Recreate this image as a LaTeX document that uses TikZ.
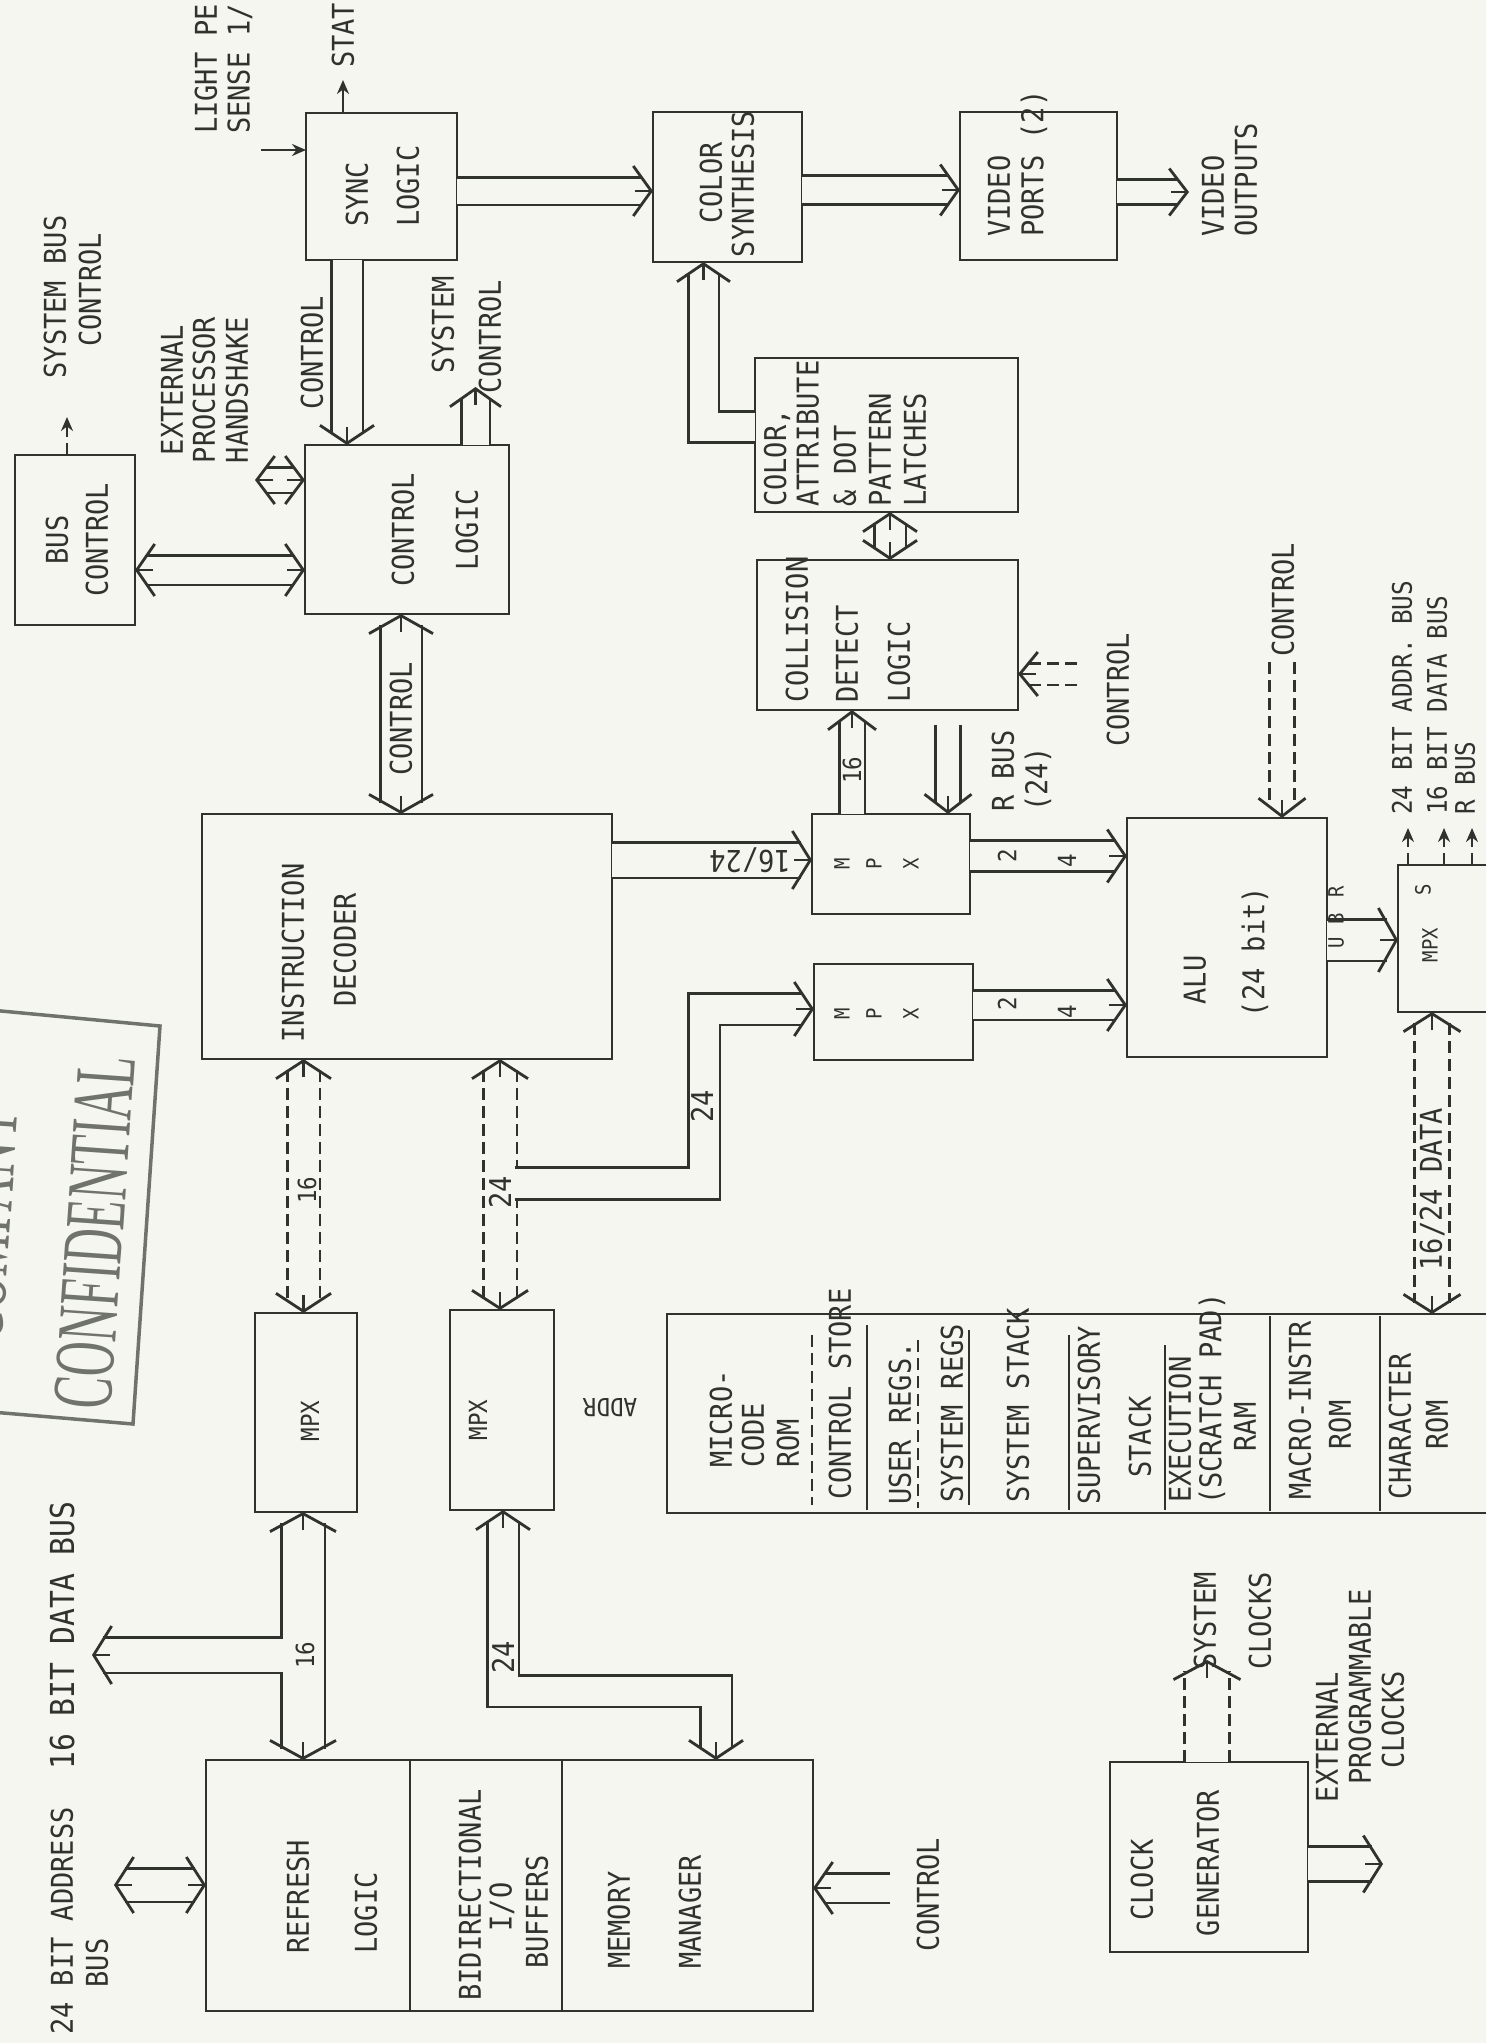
\documentclass[tikz,border=0pt]{standalone}
\usepackage{fontspec}
\usetikzlibrary{arrows.meta,calc}
\newfontfamily\tw[FakeStretch=0.9]{DejaVu Sans Mono}
\newfontfamily\stampf[FakeStretch=0.56]{Liberation Serif}
\definecolor{bgc}{RGB}{246,246,241}
\definecolor{ink}{RGB}{48,50,46}
\definecolor{stampc}{RGB}{112,114,108}
\newcommand\hU[2]{\draw[hd=#2] ($#1+(0,18)$) -- #1;}
\newcommand\hD[2]{\draw[hd=#2] ($#1+(0,-18)$) -- #1;}
\newcommand\hL[2]{\draw[hd=#2] ($#1+(18,0)$) -- #1;}
\newcommand\hR[2]{\draw[hd=#2] ($#1+(-18,0)$) -- #1;}
\begin{document}
\begin{tikzpicture}[x=1pt,y=-1pt,
  bx/.style={draw=ink, line width=2.8pt, inner sep=0pt, outer sep=0pt, anchor=north west},
  tx/.style={inner sep=0pt, text=ink, font={\tw\fontsize{30}{34}\selectfont}},
  lb/.style={tx, rotate=90},
  lbm/.style={lb, font={\tw\fontsize{25}{28}\selectfont}},
  lbs/.style={lb, font={\tw\fontsize{21}{24}\selectfont}},
  lbr/.style={lb, font={\tw\fontsize{27}{30}\selectfont}},
  shaft/.style={draw=ink, line width=2.8pt, double=bgc, double distance=#1},
  hd/.style={draw=ink, line width=2.8pt, -{Straight Barb[length=18pt, width=#1]}},
  sarr/.style={draw=ink, line width=2.2pt, -{Stealth[length=14pt, width=12pt]}},
  dv/.style={draw=ink, line width=2.2pt},
  dsh/.style={dash pattern=on 12pt off 6pt},
  stx/.style={inner sep=0pt, text=stampc, rotate=86, align=center, font={\stampf\fontsize{86}{113}\selectfont}}
]
\useasboundingbox (0,0) rectangle (1486,2043);
\fill[bgc] (0,0) rectangle (1486,2043);
\begin{scope}
\clip (0,0) rectangle (1486,2043);

% ---------------- boxes
\node[bx, minimum width=120pt, minimum height=170pt] (bus) at (15,455) {};
\node[bx, minimum width=204pt, minimum height=169pt] (ctl) at (305,445) {};
\node[bx, minimum width=151pt, minimum height=147pt] (sync) at (306,113) {};
\node[bx, minimum width=149pt, minimum height=150pt] (csyn) at (653,112) {};
\node[bx, minimum width=157pt, minimum height=148pt] (vports) at (960,112) {};
\node[bx, minimum width=263pt, minimum height=154pt] (latch) at (755,358) {};
\node[bx, minimum width=261pt, minimum height=150pt] (coll) at (757,560) {};
\node[bx, minimum width=410pt, minimum height=245pt] (idec) at (202,814) {};
\node[bx, minimum width=158pt, minimum height=100pt] (mpxa) at (812,814) {};
\node[bx, minimum width=159pt, minimum height=96pt] (mpxb) at (814,964) {};
\node[bx, minimum width=200pt, minimum height=239pt] (alu) at (1127,818) {};
\node[bx, minimum width=112pt, minimum height=147pt] (mpxs) at (1398,865) {};
\node[bx, minimum width=843pt, minimum height=199pt] (stack) at (667,1314) {};
\node[bx, minimum width=102pt, minimum height=199pt] (mpxl) at (255,1313) {};
\node[bx, minimum width=104pt, minimum height=200pt] (mpxm) at (450,1310) {};
\node[bx, minimum width=607pt, minimum height=251pt] (mem) at (206,1760) {};
\node[bx, minimum width=198pt, minimum height=190pt] (clk) at (1110,1762) {};

% dividers
\draw[dv, dsh] (812,1335) -- (812,1505);
\draw[dv] (867,1325) -- (867,1510);
\draw[dv, dsh] (918,1340) -- (918,1508);
\draw[dv] (969,1330) -- (969,1505);
\draw[dv] (1069,1335) -- (1069,1510);
\draw[dv] (1165,1345) -- (1165,1510);
\draw[dv] (1270,1316) -- (1270,1511);
\draw[dv] (1380,1316) -- (1380,1511);
\draw[dv] (410,1760) -- (410,2011);
\draw[dv] (562,1760) -- (562,2011);

% stamp
\draw[stampc, line width=3.5pt] (-20,1009) -- (160,1026) -- (133,1424) -- (-20,1411);

% ---------------- coordinates
\coordinate (a1s) at ($(sync.east)+(0,4.5)$);
\coordinate (a1e) at ($(csyn.west)+(0,4)$);
\coordinate (a2s) at ($(csyn.east)+(0,3)$);
\coordinate (a2e) at ($(vports.west)+(0,4)$);
\coordinate (a3s) at ($(vports.east)+(0,6)$);
\coordinate (vout) at (1189,192);
\coordinate (a4s) at ($(latch.west)+(0,-8)$);
\coordinate (a4e) at ($(csyn.south)+(-24,0)$);
\coordinate (a5s) at ($(latch.south)+(3.5,0)$);
\coordinate (a5e) at ($(coll.north)+(2.5,0)$);
\coordinate (cc1) at (1077,674);
\coordinate (a6e) at ($(coll.east)+(0,39)$);
\coordinate (a7s) at ($(mpxa.north)+(-39,0)$);
\coordinate (a7e) at ($(coll.south)+(-35.5,0)$);
\coordinate (rbus) at (948,725);
\coordinate (a8e) at ($(mpxa.north)+(57,0)$);
\coordinate (a9s) at ($(idec.east)+(0,-76.5)$);
\coordinate (a9e) at ($(mpxa.west)+(0,-4)$);
\coordinate (a10s) at ($(mpxa.east)+(0,-8)$);
\coordinate (a10e) at ($(alu.west)+(0,-81.5)$);
\coordinate (a11s) at ($(mpxb.east)+(0,-7)$);
\coordinate (a11e) at ($(alu.west)+(0,67.5)$);
\coordinate (aluc) at (1282,662);
\coordinate (a12e) at ($(alu.north)+(55,0)$);
\coordinate (a13s) at ($(alu.east)+(0,2.5)$);
\coordinate (a13e) at ($(mpxs.west)+(0,1.5)$);
\coordinate (b1) at ($(mpxs.north)+(-46,0)$);
\coordinate (b2) at ($(mpxs.north)+(-10,0)$);
\coordinate (b3) at ($(mpxs.north)+(18,0)$);
\coordinate (t1) at (1408,828);
\coordinate (t2) at (1444,828);
\coordinate (t3) at (1472,828);
\coordinate (a15s) at ($(mpxs.south)+(-22,0)$);
\coordinate (a15e) at ($(stack.north)+(343.5,0)$);
\coordinate (a16s) at ($(ctl.south)+(-6,0)$);
\coordinate (a16e) at ($(idec.north)+(-6,0)$);
\coordinate (a17s) at ($(idec.south)+(-103.5,0)$);
\coordinate (a17e) at ($(mpxl.north)+(-2.5,0)$);
\coordinate (a18s) at ($(idec.south)+(93,0)$);
\coordinate (a18e) at ($(mpxm.north)+(-2,0)$);
\coordinate (j24) at (515,1183.5);
\coordinate (c24) at (704,1009);
\coordinate (a19e) at ($(mpxb.west)+(0,-3)$);
\coordinate (a20s) at ($(mpxl.south)+(-3,0)$);
\coordinate (a20e) at ($(mem.north)+(-206.5,0)$);
\coordinate (j16) at (283,1655);
\coordinate (d16) at (92,1655);
\coordinate (a21s) at ($(mpxm.south)+(1,0)$);
\coordinate (m21) at (600,1691);
\coordinate (a21e) at ($(mem.north)+(206.5,0)$);
\coordinate (a24) at (114,1885);
\coordinate (a22e) at ($(mem.west)+(0,-0.5)$);
\coordinate (mc) at (890,1888);
\coordinate (a23e) at ($(mem.east)+(0,2.5)$);
\coordinate (a24s) at ($(clk.north)+(-2,0)$);
\coordinate (sc) at (1207,1660);
\coordinate (a25s) at ($(clk.east)+(0,7)$);
\coordinate (epc) at (1383,1864);
\coordinate (lp) at (261,150);
\coordinate (a26e) at ($(sync.west)+(0,-36.5)$);
\coordinate (a27s) at ($(sync.north)+(-38.5,0)$);
\coordinate (stat) at (343,80);
\coordinate (a28s) at ($(sync.south)+(-34.5,0)$);
\coordinate (a28e) at ($(ctl.north)+(-60,0)$);
\coordinate (a29s) at ($(ctl.north)+(68.5,0)$);
\coordinate (sysc) at (475.5,387);
\coordinate (a30s) at ($(bus.north)+(-8,0)$);
\coordinate (sbc) at (67,417);
\coordinate (eph) at (255,480);
\coordinate (a31e) at ($(ctl.west)+(0,-49.5)$);
\coordinate (a32s) at ($(bus.east)+(0,30)$);
\coordinate (a32e) at ($(ctl.west)+(0,40.5)$);

% ---------------- connectors
\draw[shaft=25pt, shorten >=11pt] (a1s) -- (a1e); \hR{(a1e)}{50pt}
\draw[shaft=26pt, shorten >=11pt] (a2s) -- (a2e); \hR{(a2e)}{51pt}
\draw[shaft=22pt, shorten >=11pt] (a3s) -- (vout); \hR{(vout)}{47pt}
\draw[shaft=28pt, shorten >=11pt] (a4s) -| (a4e); \hU{(a4e)}{53pt}
\draw[shaft=29pt, shorten >=11pt, shorten <=11pt] (a5s) -- (a5e); \hU{(a5s)}{54pt} \hD{(a5e)}{54pt}
\draw[shaft=19pt, dsh, shorten >=11pt] (cc1) -- (a6e); \hL{(a6e)}{44pt}
\draw[shaft=23pt, shorten >=11pt] (a7s) -- (a7e); \hU{(a7e)}{48pt}
\draw[shaft=22pt, shorten >=11pt] (rbus) -- (a8e); \hD{(a8e)}{47pt}
\draw[shaft=33pt, shorten >=11pt] (a9s) -- (a9e); \hR{(a9e)}{58pt}
\draw[shaft=28pt, shorten >=11pt] (a10s) -- (a10e); \hR{(a10e)}{53pt}
\draw[shaft=27pt, shorten >=11pt] (a11s) -- (a11e); \hR{(a11e)}{52pt}
\draw[shaft=22pt, dsh, shorten >=11pt] (aluc) -- (a12e); \hD{(a12e)}{47pt}
\draw[shaft=39pt, shorten >=11pt] (a13s) -- (a13e); \hR{(a13e)}{64pt}
\draw[sarr, dsh] (b1) -- (t1);
\draw[sarr, dsh] (b2) -- (t2);
\draw[sarr, dsh] (b3) -- (t3);
\draw[shaft=32pt, dsh, shorten >=11pt, shorten <=11pt] (a15s) -- (a15e); \hU{(a15s)}{57pt} \hD{(a15e)}{57pt}
\draw[shaft=39pt, shorten >=11pt, shorten <=11pt] (a16s) -- (a16e); \hU{(a16s)}{64pt} \hD{(a16e)}{64pt}
\draw[shaft=30pt, dsh, shorten >=11pt, shorten <=11pt] (a17s) -- (a17e); \hU{(a17s)}{55pt} \hD{(a17e)}{55pt}
\draw[shaft=31pt, dsh, shorten >=11pt, shorten <=11pt] (a18s) -- (a18e); \hU{(a18s)}{56pt} \hD{(a18e)}{56pt}
\draw[shaft=29pt, shorten >=11pt] (j24) -| (c24) -- (a19e); \hR{(a19e)}{54pt}
\draw[shaft=41pt, shorten >=11pt, shorten <=11pt] (a20s) -- (a20e); \hU{(a20s)}{66pt} \hD{(a20e)}{66pt}
\draw[shaft=33pt, shorten >=11pt] (j16) -- (d16); \hL{(d16)}{58pt}
\draw[shaft=29pt, shorten >=11pt, shorten <=11pt] (a21s) |- (m21) -| (a21e); \hU{(a21s)}{54pt} \hD{(a21e)}{54pt}
\draw[shaft=31pt, shorten >=11pt, shorten <=11pt] (a24) -- (a22e); \hL{(a24)}{56pt} \hR{(a22e)}{56pt}
\draw[shaft=27pt, shorten >=11pt] (mc) -- (a23e); \hL{(a23e)}{52pt}
\draw[shaft=42pt, dsh, shorten >=11pt] (a24s) -- (sc); \hU{(sc)}{67pt}
\draw[shaft=32pt, shorten >=11pt] (a25s) -- (epc); \hR{(epc)}{57pt}
\draw[sarr] (lp) -- (a26e);
\draw[sarr] (a27s) -- (stat);
\draw[shaft=29pt, shorten >=11pt] (a28s) -- (a28e); \hD{(a28e)}{54pt}
\draw[shaft=26pt, shorten >=11pt] (a29s) -- (sysc); \hU{(sysc)}{51pt}
\draw[sarr, dsh] (a30s) -- (sbc);
\draw[shaft=23pt, shorten >=11pt, shorten <=11pt] (eph) -- (a31e); \hL{(eph)}{48pt} \hR{(a31e)}{48pt}
\draw[shaft=27pt, shorten >=11pt, shorten <=11pt] (a32s) -- (a32e); \hL{(a32s)}{52pt} \hR{(a32e)}{52pt}

% ---------------- texts
\node[lb, anchor=west] (tSy1) at (357,227) {SYNC};
\node[lb, anchor=west] (tSy2) at (408,227) {LOGIC};
\node[lb, anchor=west] (tLp1) at (206,134) {LIGHT PE};
\node[lb, anchor=west] (tLp2) at (240,134) {SENSE 1/};
\node[lb, anchor=west] (tSt) at (343,68) {STAT};
\node[lb] (tCs1) at (711,183) {COLOR};
\node[lb] (tCs2) at (743,184) {SYNTHESIS};
\node[lb, anchor=west] (tVp1) at (999,237) {VIDEO};
\node[lb, anchor=west] (tVp2) at (1034,237) {PORTS (2)};
\node[lb, anchor=west] (tVo1) at (1213,237) {VIDEO};
\node[lb, anchor=west] (tVo2) at (1246,237) {OUTPUTS};
\node[lb] (tSb1) at (55,297) {SYSTEM BUS};
\node[lb] (tSb2) at (90,290) {CONTROL};
\node[lb] (tEp1) at (172,390) {EXTERNAL};
\node[lb] (tEp2) at (204,390) {PROCESSOR};
\node[lb] (tEp3) at (237,390) {HANDSHAKE};
\node[lb] (tSc) at (312,353) {CONTROL};
\node[lb] (tSs1) at (443,325) {SYSTEM};
\node[lb] (tSs2) at (490,337) {CONTROL};
\node[lb] (tBc1) at (57,540) {BUS};
\node[lb] (tBc2) at (97,540) {CONTROL};
\node[lb] (tCl1) at (403,530) {CONTROL};
\node[lb] (tCl2) at (467,530) {LOGIC};
\node[lb, anchor=west] (tLa1) at (777,507) {COLOR,};
\node[lb, anchor=west] (tLa2) at (808,507) {ATTRIBUTE};
\node[lb, anchor=west] (tLa3) at (845,507) {\& DOT};
\node[lb, anchor=west] (tLa4) at (880,507) {PATTERN};
\node[lb, anchor=west] (tLa5) at (915,507) {LATCHES};
\node[lb, anchor=west] (tCo1) at (797,703) {COLLISION};
\node[lb, anchor=west] (tCo2) at (847,703) {DETECT};
\node[lb, anchor=west] (tCo3) at (899,703) {LOGIC};
\node[lb] (tCc) at (1118,690) {CONTROL};
\node[lb] (tCid) at (401,719) {CONTROL};
\node[lb] (tId1) at (293,953) {INSTRUCTION};
\node[lb] (tId2) at (345,950) {DECODER};
\node[tx, rotate=180] (t1624) at (750,860) {16/24};
\node[lbs] (tMa1) at (842,864) {M};
\node[lbs] (tMa2) at (874,864) {P};
\node[lbs] (tMa3) at (911,864) {X};
\node[lbs] (tMb1) at (842,1014) {M};
\node[lbs] (tMb2) at (874,1014) {P};
\node[lbs] (tMb3) at (911,1014) {X};
\node[lbm] (t16a) at (852,770) {16};
\node[lb, anchor=west] (tRb1) at (1003,812) {R BUS};
\node[lb, anchor=west] (tRb2) at (1038,812) {(24)};
\node[lbm] (t2a) at (1007,856) {2};
\node[lbm] (t4a) at (1067,861) {4};
\node[lbm] (t2b) at (1007,1004) {2};
\node[lbm] (t4b) at (1067,1012) {4};
\node[lb] (tAlu1) at (1195,980) {ALU};
\node[lb] (tAlu2) at (1255,952) {(24 bit)};
\node[lb] (tAc) at (1283,600) {CONTROL};
\node[lbs] (tR) at (1336,892) {R};
\node[lbs] (tB) at (1336,919) {B};
\node[lbs] (tU) at (1336,943) {U};
\node[lbs] (tS) at (1423,890) {S};
\node[lbs] (tMs) at (1430,945) {MPX};
\node[lbr, anchor=west] (tRt1) at (1402,815) {24 BIT ADDR. BUS};
\node[lbr, anchor=west] (tRt2) at (1437,815) {16 BIT DATA BUS};
\node[lbr, anchor=west] (tRt3) at (1465,815) {R BUS};
\node[lb] (tDat) at (1432,1189) {16/24 DATA};
\node[lb, anchor=west] (tMc1) at (721,1468) {MICRO-};
\node[lb, anchor=west] (tMc2) at (753,1468) {CODE};
\node[lb, anchor=west] (tMc3) at (788,1468) {ROM};
\node[lb, anchor=west] (tCst) at (840,1500) {CONTROL STORE};
\node[lb, anchor=west] (tUr) at (900,1505) {USER REGS.};
\node[lb, anchor=west] (tSr) at (952,1503) {SYSTEM REGS};
\node[lb, anchor=west] (tSst) at (1018,1503) {SYSTEM STACK};
\node[lb, anchor=west] (tSv1) at (1089,1505) {SUPERVISORY};
\node[lb] (tSv2) at (1140,1437) {STACK};
\node[lb, anchor=west] (tEx1) at (1180,1503) {EXECUTION};
\node[lb, anchor=west] (tEx2) at (1212,1505) {(SCRATCH PAD)};
\node[lb] (tEx3) at (1245,1427) {RAM};
\node[lb, anchor=west] (tMi1) at (1300,1500) {MACRO-INSTR};
\node[lb] (tMi2) at (1340,1425) {ROM};
\node[lb, anchor=west] (tCh1) at (1400,1500) {CHARACTER};
\node[lb] (tCh2) at (1437,1425) {ROM};
\node[tx, rotate=180, font={\tw\fontsize{25}{28}\selectfont}] (tAddr) at (610,1408) {ADDR};
\node[lb] (t24a) at (702,1106) {24};
\node[lb] (t24b) at (500,1192) {24};
\node[lbm] (t16b) at (307,1190) {16};
\node[lbm] (t16c) at (305,1655) {16};
\node[lb] (t24c) at (503,1657) {24};
\node[lbm] (tMl) at (310,1421) {MPX};
\node[lbm] (tMm) at (478,1420) {MPX};
\node[lb] (tRe1) at (298,1897) {REFRESH};
\node[lb] (tRe2) at (366,1913) {LOGIC};
\node[lb] (tBi1) at (470,1895) {BIDIRECTIONAL};
\node[lb] (tBi2) at (502,1907) {I/O};
\node[lb] (tBi3) at (537,1912) {BUFFERS};
\node[lb] (tMe1) at (619,1920) {MEMORY};
\node[lb] (tMe2) at (690,1912) {MANAGER};
\node[lb] (tAd1) at (62,1921) {24 BIT ADDRESS};
\node[lb] (tAd2) at (97,1963) {BUS};
\node[lb, anchor=west, font={\tw\fontsize{33}{36}\selectfont}] (tDb) at (62,1770) {16 BIT DATA BUS};
\node[lb] (tMcl) at (928,1895) {CONTROL};
\node[lb] (tCk1) at (1142,1880) {CLOCK};
\node[lb] (tCk2) at (1208,1863) {GENERATOR};
\node[lb, anchor=west] (tSk1) at (1205,1670) {SYSTEM};
\node[lb, anchor=west] (tSk2) at (1260,1670) {CLOCKS};
\node[lb] (tEc1) at (1327,1737) {EXTERNAL};
\node[lb] (tEc2) at (1360,1687) {PROGRAMMABLE};
\node[lb] (tEc3) at (1393,1720) {CLOCKS};
\node[stx] (tStamp) at (38.5,1228) {COMPANY\\CONFIDENTIAL};
\end{scope}
\end{tikzpicture}
\end{document}
